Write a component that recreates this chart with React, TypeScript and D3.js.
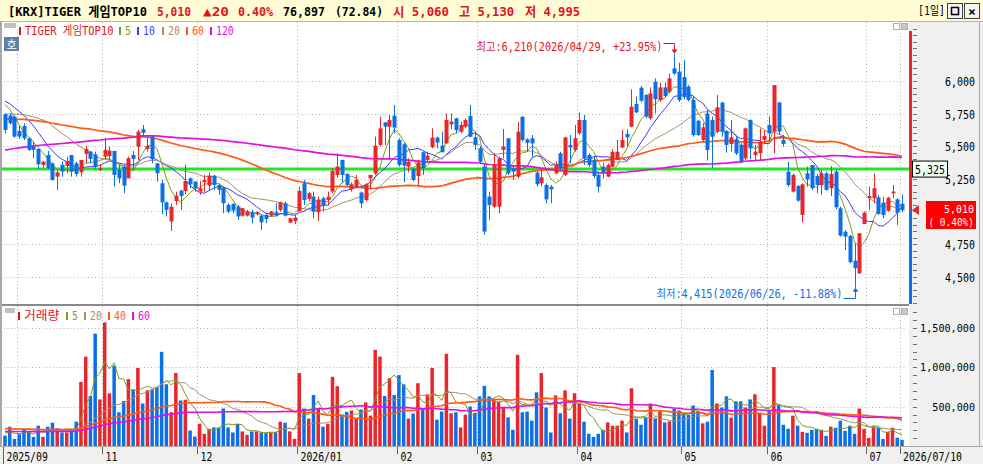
import React from "react";
import * as d3 from "d3";

// daily candles (KRW)
const opens = [
  5747, 5735, 5727, 5617, 5655, 5561, 5497, 5479, 5357, 5433,
  5369, 5267, 5357, 5349, 5433, 5369, 5300, 5441, 5459, 5438,
  5318, 5420, 5425, 5464, 5318, 5344, 5254, 5433, 5497, 5630,
  5479, 5574, 5369, 5216, 5070, 4923, 5080, 5160, 5157, 5254,
  5229, 5152, 5224, 5198, 5275, 5203, 5178, 5050, 5058, 5037,
  4968, 4968, 4994, 4979, 4968, 4974, 4968, 4994, 5012, 5063,
  4915, 4927, 5004, 5216, 5096, 5114, 4994, 5101, 5088, 5152,
  5280, 5395, 5288, 5170, 5183, 5145, 5088, 5254, 5293, 5510,
  5683, 5650, 5734, 5548, 5515, 5344, 5326, 5272, 5454, 5395,
  5492, 5566, 5505, 5523, 5668, 5714, 5612, 5650, 5732, 5568,
  5484, 5344, 5114, 5037, 5037, 5471, 5561, 5331, 5267, 5727,
  5553, 5561, 5298, 5216, 5203, 5190, 5292, 5446, 5280, 5510,
  5471, 5599, 5701, 5433, 5394, 5280, 5343, 5267, 5343, 5395,
  5491, 5594, 5650, 5824, 5949, 5893, 5714, 5995, 5854, 5951,
  5918, 6097, 6071, 6030, 5957, 5855, 5696, 5548, 5752, 5701,
  5612, 5834, 5617, 5517, 5553, 5510, 5407, 5701, 5433, 5446,
  5548, 5663, 5612, 5836, 5548, 5305, 5152, 5195, 4973, 5292,
  5356, 5272, 5203, 5292, 5178, 5305, 5024, 4845, 4812, 4623,
  4526, 4904, 5101, 5101, 5108, 5067, 5006, 5139, 5093, 5060,
];
const highs = [
  5752, 5752, 5735, 5658, 5676, 5566, 5535, 5484, 5387, 5464,
  5375, 5318, 5382, 5420, 5433, 5382, 5395, 5502, 5464, 5459,
  5362, 5566, 5497, 5464, 5357, 5357, 5420, 5464, 5625, 5663,
  5574, 5586, 5369, 5242, 5076, 5063, 5152, 5165, 5357, 5260,
  5234, 5234, 5280, 5300, 5280, 5216, 5191, 5063, 5063, 5050,
  5025, 5012, 5012, 5000, 4974, 4986, 5004, 5063, 5076, 5076,
  4948, 4974, 5191, 5242, 5152, 5152, 5114, 5114, 5152, 5331,
  5446, 5395, 5293, 5222, 5280, 5152, 5216, 5280, 5574, 5727,
  5683, 5740, 5816, 5561, 5523, 5408, 5331, 5395, 5459, 5459,
  5637, 5574, 5612, 5752, 5752, 5719, 5688, 5714, 5816, 5612,
  5497, 5356, 5152, 5446, 5420, 5632, 5561, 5356, 5688, 5727,
  5561, 5586, 5305, 5331, 5216, 5203, 5382, 5458, 5573, 5586,
  5663, 5757, 5740, 5446, 5420, 5305, 5374, 5369, 5478, 5548,
  5624, 5630, 5936, 5880, 5962, 5900, 5951, 6020, 5987, 5987,
  6058, 6210, 6140, 6161, 5969, 5880, 5701, 5676, 5778, 5727,
  5893, 5842, 5624, 5701, 5573, 5522, 5645, 5706, 5510, 5637,
  5624, 5727, 5969, 5836, 5586, 5382, 5292, 5203, 5216, 5343,
  5356, 5288, 5318, 5305, 5348, 5318, 5037, 4858, 4820, 4756,
  4833, 4999, 5190, 5292, 5126, 5113, 5113, 5203, 5101, 5130,
];
const lows = [
  5599, 5668, 5566, 5556, 5548, 5464, 5408, 5326, 5336, 5326,
  5236, 5165, 5267, 5293, 5267, 5267, 5267, 5369, 5369, 5326,
  5306, 5403, 5395, 5191, 5216, 5140, 5254, 5318, 5395, 5574,
  5459, 5369, 5229, 4979, 4961, 4851, 5050, 5012, 5132, 5178,
  5152, 5127, 5152, 5165, 5165, 5127, 4986, 4986, 4986, 4935,
  4961, 4961, 4910, 4968, 4859, 4910, 4961, 4961, 4999, 4961,
  4910, 4902, 4999, 5050, 5076, 4948, 4928, 4999, 5045, 5140,
  5260, 5216, 5191, 5152, 5178, 5025, 5076, 5173, 5280, 5497,
  5510, 5395, 5599, 5344, 5224, 5300, 5229, 5203, 5280, 5382,
  5484, 5484, 5454, 5515, 5630, 5599, 5599, 5637, 5568, 5471,
  5369, 4820, 4935, 5024, 4986, 5407, 5280, 5242, 5254, 5535,
  5458, 5420, 5190, 5190, 5063, 5063, 5288, 5318, 5272, 5369,
  5458, 5586, 5356, 5343, 5254, 5144, 5254, 5262, 5338, 5395,
  5484, 5497, 5645, 5752, 5836, 5714, 5701, 5752, 5841, 5875,
  5905, 6046, 5840, 5860, 5842, 5573, 5579, 5535, 5390, 5331,
  5599, 5573, 5451, 5458, 5433, 5369, 5395, 5400, 5395, 5390,
  5522, 5535, 5446, 5586, 5497, 5190, 5144, 5075, 4915, 5190,
  5165, 5139, 5127, 5160, 5118, 5017, 4807, 4705, 4603, 4415,
  4521, 4904, 5011, 5063, 4973, 4948, 4999, 5101, 4896, 4995,
];
const closes = [
  5625, 5676, 5574, 5574, 5561, 5472, 5472, 5362, 5382, 5331,
  5242, 5300, 5306, 5387, 5306, 5288, 5395, 5479, 5403, 5344,
  5331, 5472, 5466, 5280, 5254, 5198, 5408, 5403, 5612, 5604,
  5502, 5400, 5293, 5070, 5012, 5037, 5121, 5119, 5234, 5209,
  5178, 5178, 5242, 5275, 5203, 5165, 5063, 4999, 5007, 4961,
  5025, 4999, 4953, 4994, 4917, 4943, 4999, 4968, 5070, 4968,
  4948, 4953, 5157, 5088, 5140, 4999, 5088, 5045, 5114, 5311,
  5344, 5280, 5203, 5209, 5242, 5063, 5209, 5280, 5505, 5637,
  5650, 5701, 5643, 5357, 5352, 5382, 5242, 5377, 5331, 5428,
  5566, 5528, 5454, 5701, 5689, 5624, 5663, 5701, 5573, 5510,
  5382, 4846, 5050, 5356, 5407, 5497, 5292, 5305, 5612, 5548,
  5527, 5522, 5208, 5262, 5093, 5170, 5356, 5331, 5568, 5491,
  5561, 5701, 5407, 5356, 5272, 5190, 5298, 5356, 5458, 5458,
  5548, 5568, 5803, 5760, 5849, 5727, 5905, 5860, 5951, 5885,
  6020, 6058, 5854, 5877, 5855, 5586, 5586, 5645, 5471, 5573,
  5798, 5612, 5510, 5568, 5446, 5382, 5637, 5484, 5458, 5535,
  5578, 5599, 5969, 5612, 5517, 5203, 5280, 5083, 5208, 5246,
  5178, 5203, 5292, 5165, 5288, 5032, 4815, 4807, 4611, 4565,
  4833, 4991, 5118, 5178, 4981, 4973, 5106, 5152, 4990, 5010,
];
// daily volume, thousands of shares
const volumeThousands = [
  133, 245, 90, 150, 219, 176, 116, 258, 116, 245,
  296, 206, 172, 172, 219, 309, 815, 1137, 635, 1429,
  592, 1571, 670, 1021, 429, 571, 850, 712, 991, 541,
  708, 721, 751, 1197, 785, 429, 927, 579, 588, 197,
  120, 283, 155, 219, 236, 236, 476, 236, 172, 279,
  185, 142, 185, 185, 172, 163, 172, 176, 309, 296,
  185, 90, 927, 476, 348, 648, 476, 245, 283, 880,
  760, 399, 433, 451, 348, 464, 554, 386, 1223, 1137,
  635, 863, 648, 901, 785, 348, 412, 798, 476, 657,
  991, 335, 438, 1172, 416, 429, 236, 399, 502, 421,
  631, 764, 631, 601, 562, 485, 365, 206, 1159, 429,
  438, 322, 682, 927, 489, 172, 644, 416, 708, 348,
  670, 545, 309, 155, 116, 155, 206, 300, 258, 258,
  322, 172, 734, 348, 270, 356, 541, 348, 442, 300,
  313, 476, 451, 416, 399, 515, 442, 288, 309, 966,
  541, 489, 631, 361, 567, 567, 489, 592, 657, 408,
  258, 442, 1004, 528, 270, 219, 386, 258, 180, 167,
  206, 219, 206, 129, 245, 232, 322, 193, 258, 155,
  476, 219, 103, 258, 232, 90, 180, 232, 105.57, 76.897,
];

const monthLabels = ["2025/09", "11", "12", "2026/01", "02", "03", "04", "05", "06", "07"];
const monthStarts = [0, 21, 41, 62, 83, 100, 121, 143, 161, 182];
const octoberStart = 3; // gridline only, no label
const lastDateLabel = "2026/07/10";
const highDate = "2026/04/29";
const lowDate = "2026/06/26";

const priceTicks = [6000, 5750, 5500, 5250, 5000, 4750, 4500];
const volumeTicks = [1500000, 1000000, 500000];
const referencePrice = 5325;

// history before the window is not shown: average close of each 10-day block
// (oldest first), estimated from where the moving averages start at the left edge
const priorBlockMeans = [4930, 4960, 4990, 5420, 5480, 5540, 5660, 5700, 5720, 5690, 5620, 5870];
const priceMaPeriods = [5, 10, 20, 60, 120];
const volumeMaPeriods = [5, 20, 40, 60];
const volumeMaPrior = [170000, 230000, 222000, 186000];

const RED = "#e8262b";
const BLUE = "#0b6fe6";
const TXT_RED = "#e0141e";
const MA_COLORS: Record<number, string> = {
  5: "#7c9c1c",
  10: "#3a3aff",
  20: "#a88f70",
  60: "#ff5a14",
  120: "#e012e0",
};
const VOL_MA_COLORS: Record<number, string> = { 5: "#7c9c1c", 20: "#a88f70", 40: "#ff5a14", 60: "#e012e0" };
const MONO = "'DejaVu Sans Mono', 'Noto Sans CJK KR', monospace";

const W = 983;
const H = 464;
const PRICE_TOP = 22;
const PRICE_BOT = 304;
const VOL_TOP = 306;
const VOL_BOT = 446;
const PLOT_R = 909;

const volumes = volumeThousands.map((v) => v * 1000);

function movingAverage(values: number[], n: number, prior: number[]) {
  const all = [...prior, ...values];
  const off = prior.length;
  return values.map((_, i) => {
    let s = 0;
    let c = 0;
    for (let k = off + i - n + 1; k <= off + i; k++) {
      if (k >= 0) {
        s += all[k];
        c++;
      }
    }
    return s / c;
  });
}

const fmt = d3.format(",");

// half-width units of a monospace Korean UI font
const units = (s: string) => Array.from(s).reduce((a, ch) => a + (/[\u3131-\uD79D]/.test(ch) ? 2 : 1), 0);

const MText: React.FC<{
  x: number;
  y: number;
  t: string;
  fill: string;
  size?: number;
  unit?: number;
  anchor?: "start" | "end" | "middle";
}> = ({ x, y, t, fill, size = 11.5, unit = 6, anchor = "start" }) => (
  <text
    x={x}
    y={y}
    fontSize={size}
    fill={fill}
    textAnchor={anchor}
    textLength={units(t) * unit}
    lengthAdjust="spacingAndGlyphs"
  >
    {t}
  </text>
);

const App: React.FC = () => {
  const n = closes.length;
  const x = d3.scaleLinear().domain([0, n - 1]).range([5, 902]);
  const half = (x(1) - x(0)) / 2;
  const yP = d3.scaleLinear().domain([4500, 6000]).range([276.7, 81]);
  const yV = d3.scaleLinear().domain([0, 1500000]).range([VOL_BOT, 328]);

  const priceLine = d3.line<number>().x((_, i) => x(i)).y((d) => yP(d));
  const volLine = d3.line<number>().x((_, i) => x(i)).y((d) => yV(d));

  const priorCloses = priorBlockMeans.flatMap((m) => Array(10).fill(m) as number[]);

  const last = n - 1;
  const lastClose = closes[last];
  const change = lastClose - closes[last - 1];
  const changePct = (change / closes[last - 1]) * 100;
  const maxHigh = d3.max(highs)!;
  const maxIdx = highs.indexOf(maxHigh);
  const minLow = d3.min(lows)!;
  const minIdx = lows.indexOf(minLow);
  const hiPct = (maxHigh / lastClose - 1) * 100;
  const loPct = (minLow / lastClose - 1) * 100;

  const gridXs = [...monthStarts.slice(1), octoberStart, last].map((i) => Math.round(x(i) - half) + 0.5);

  const priceMinor = d3.range(4300, 6500, 50).filter((v) => yP(v) > PRICE_TOP + 2 && yP(v) < PRICE_BOT - 1);
  const volMinor = d3.range(0, 1800000, 100000).filter((v) => yV(v) > VOL_TOP + 2 && yV(v) <= VOL_BOT - 1);

  const titleParts = [
    { t: "[KRX]TIGER 게임TOP10", x: 8, w: 139, c: "#000" },
    { t: fmt(lastClose), x: 157, w: 34, c: TXT_RED },
    { t: `▲${change}`, x: 203, w: 26, c: TXT_RED },
    { t: `${changePct.toFixed(2)}%`, x: 238, w: 35, c: TXT_RED },
    { t: fmt(volumes[last]), x: 283, w: 42, c: "#000" },
    { t: `(${((volumes[last] / volumes[last - 1]) * 100).toFixed(2)})`, x: 335, w: 48, c: "#000" },
    { t: `시 ${fmt(opens[last])}`, x: 393, w: 56, c: TXT_RED },
    { t: `고 ${fmt(highs[last])}`, x: 459, w: 55, c: TXT_RED },
    { t: `저 ${fmt(lows[last])}`, x: 525, w: 55, c: TXT_RED },
  ];

  const priceLegend = [
    { t: "TIGER 게임TOP10", c: TXT_RED, x: 19 },
    { t: "5", c: MA_COLORS[5], x: 119 },
    { t: "10", c: MA_COLORS[10], x: 137 },
    { t: "20", c: MA_COLORS[20], x: 162 },
    { t: "60", c: MA_COLORS[60], x: 186 },
    { t: "120", c: MA_COLORS[120], x: 210 },
  ];
  const volLegend = [
    { t: "거래량", c: TXT_RED, x: 18 },
    { t: "5", c: VOL_MA_COLORS[5], x: 66 },
    { t: "20", c: VOL_MA_COLORS[20], x: 84 },
    { t: "40", c: VOL_MA_COLORS[40], x: 108 },
    { t: "60", c: VOL_MA_COLORS[60], x: 132 },
  ];

  const hiX = Math.round(x(maxIdx)) + 0.5;
  const hiY = yP(maxHigh);
  const loX = Math.round(x(minIdx)) + 0.5;
  const loY = yP(minLow);
  const curY = Math.round(yP(lastClose));
  const hiText = `최고:${fmt(maxHigh)}(${highDate}, +${hiPct.toFixed(2)}%)`;
  const loText = `최저:${fmt(minLow)}(${lowDate}, ${loPct.toFixed(2)}%)`;

  return (
    <svg width={W} height={H} style={{ position: "absolute", left: 0, top: 0 }} fontFamily={MONO}>
      <defs>
        <clipPath id="cp-price">
          <rect x={2} y={PRICE_TOP} width={PLOT_R - 2} height={PRICE_BOT - PRICE_TOP} />
        </clipPath>
        <clipPath id="cp-vol">
          <rect x={2} y={VOL_TOP} width={PLOT_R - 2} height={VOL_BOT - VOL_TOP} />
        </clipPath>
      </defs>
      <rect width={W} height={H} fill="#f0f0f0" />

      {/* title bar */}
      <rect x={0} y={0} width={W} height={21} fill="#fffcd6" />
      <line x1={0} x2={W} y1={21.5} y2={21.5} stroke="#b8b8a8" />
      {titleParts.map((p, i) => (
        <text
          key={i}
          x={p.x}
          y={15.5}
          fontSize={13}
          fontWeight={600}
          fill={p.c}
          textLength={p.w}
          lengthAdjust="spacingAndGlyphs"
        >
          {p.t}
        </text>
      ))}
      <text x={918} y={15} fontSize={12.5} fill="#000" textLength={27} lengthAdjust="spacingAndGlyphs">
        [1일]
      </text>
      <rect x={947.5} y={3.5} width={15} height={15} fill="#f4f4f4" stroke="#404040" />
      <rect x={951.5} y={7.5} width={7} height={7} fill="none" stroke="#000" strokeWidth={1.5} />
      <rect x={964.5} y={3.5} width={15} height={15} fill="#f4f4f4" stroke="#404040" />
      <text x={972} y={15.5} fontSize={13} fontWeight="bold" textAnchor="middle" fill="#000">
        ×
      </text>

      {/* plot backgrounds */}
      <rect x={2} y={PRICE_TOP} width={PLOT_R - 2} height={PRICE_BOT - PRICE_TOP} fill="#fff" />
      <rect x={2} y={VOL_TOP} width={PLOT_R - 2} height={VOL_BOT - VOL_TOP} fill="#fff" />
      <line x1={0} x2={PLOT_R} y1={305} y2={305} stroke="#8a8a8a" strokeWidth={2} />
      <line x1={1} x2={1} y1={PRICE_TOP} y2={VOL_BOT} stroke="#a8a8a8" strokeWidth={2} />
      <line x1={0} x2={W} y1={446.5} y2={446.5} stroke="#a8a8a8" />
      <line x1={979.5} x2={979.5} y1={PRICE_TOP} y2={VOL_BOT} stroke="#a8a8a8" />

      {/* grid */}
      <g stroke="#b4b4b4" strokeDasharray="1 2.5">
        {gridXs.map((gx, i) => (
          <g key={i}>
            <line x1={gx} x2={gx} y1={PRICE_TOP} y2={PRICE_BOT} />
            <line x1={gx} x2={gx} y1={VOL_TOP} y2={VOL_BOT} />
          </g>
        ))}
        {priceTicks.map((v) => (
          <line key={v} x1={4} x2={906} y1={Math.round(yP(v)) + 0.5} y2={Math.round(yP(v)) + 0.5} />
        ))}
        {volumeTicks.map((v) => (
          <line key={v} x1={4} x2={906} y1={Math.round(yV(v)) + 0.5} y2={Math.round(yV(v)) + 0.5} />
        ))}
      </g>

      {/* volume */}
      <g clipPath="url(#cp-vol)">
        {volumes.map((v, i) => (
          <rect
            key={i}
            x={x(i) - 1.75}
            y={yV(v)}
            width={3.5}
            height={VOL_BOT - yV(v)}
            fill={closes[i] >= opens[i] ? RED : BLUE}
          />
        ))}
        {volumeMaPeriods.map((p, k) => (
          <path
            key={p}
            d={volLine(movingAverage(volumes, p, Array(p).fill(volumeMaPrior[k]) as number[])) || ""}
            fill="none"
            stroke={VOL_MA_COLORS[p]}
            strokeWidth={p >= 40 ? 1.6 : 1}
          />
        ))}
      </g>

      {/* price */}
      <g clipPath="url(#cp-price)">
        <line
          x1={2}
          x2={PLOT_R}
          y1={yP(referencePrice)}
          y2={yP(referencePrice)}
          stroke="#22e622"
          strokeWidth={3}
        />
        {priceMaPeriods.map((p) => (
          <path
            key={p}
            d={priceLine(movingAverage(closes, p, priorCloses)) || ""}
            fill="none"
            stroke={MA_COLORS[p]}
            strokeWidth={p >= 60 ? 1.7 : 1}
          />
        ))}
        {closes.map((c, i) => {
          const o = opens[i];
          const up = c >= o;
          const col = up ? RED : BLUE;
          const cx = Math.round(x(i)) + 0.5;
          const top = yP(Math.max(o, c));
          const h = Math.max(1, Math.abs(yP(o) - yP(c)));
          return (
            <g key={i}>
              <line x1={cx} x2={cx} y1={yP(highs[i])} y2={yP(lows[i])} stroke={col} />
              <rect x={cx - 2} y={top} width={4} height={h} fill={col} />
            </g>
          );
        })}
      </g>

      {/* high / low notes */}
      <MText x={hiX - 12} y={51} t={hiText} fill={TXT_RED} anchor="end" />
      <path d={`M${hiX - 11},43.5H${hiX}V${hiY - 2}`} fill="none" stroke={TXT_RED} />
      <path d={`M${hiX - 3},${hiY - 4}L${hiX + 3},${hiY - 4}L${hiX},${hiY}Z`} fill={TXT_RED} />
      <MText x={loX - 13} y={298} t={loText} fill={BLUE} anchor="end" />
      <path d={`M${loX - 12},298.5H${loX}V${loY + 2}`} fill="none" stroke={BLUE} />
      <path d={`M${loX - 3},${loY + 4}L${loX + 3},${loY + 4}L${loX},${loY}Z`} fill={BLUE} />

      {/* legends */}
      <rect x={4} y={23} width={12} height={5} fill="#c0c0c0" />
      {priceLegend.map((l, i) => (
        <g key={i}>
          <rect x={l.x} y={27} width={2} height={8} fill={l.c} />
          <MText x={l.x + 6} y={35} t={l.t} fill={l.c} size={12} unit={5.9} />
        </g>
      ))}
      <rect x={4} y={37} width={15} height={14} fill="#5b82aa" />
      <text x={11.5} y={48.5} fontSize={11} fill="#fff" textAnchor="middle">
        호
      </text>
      <rect x={5} y={308} width={10} height={5} fill="#c0c0c0" />
      {volLegend.map((l, i) => (
        <g key={i}>
          <rect x={l.x} y={312} width={2} height={8} fill={l.c} />
          <MText x={l.x + 6} y={320} t={l.t} fill={l.c} size={12} unit={5.9} />
        </g>
      ))}
      {[PRICE_TOP + 1, VOL_TOP + 2].map((ty, i) => (
        <g key={i} fill="none" stroke="#b0b0b0">
          <rect x={893.5} y={ty + 0.5} width={6} height={6} />
          <rect x={901.5} y={ty + 0.5} width={6} height={6} fill="#c8c8c8" />
        </g>
      ))}

      {/* right price scale */}
      <rect x={909} y={31} width={3} height={curY - 31} fill={RED} />
      <rect x={909} y={curY} width={3} height={PRICE_BOT - curY} fill={BLUE} />
      <g stroke="#707070">
        {priceMinor.map((v) => (
          <line key={v} x1={913} x2={917} y1={Math.round(yP(v)) + 0.5} y2={Math.round(yP(v)) + 0.5} />
        ))}
        {volMinor.map((v) => (
          <line key={v} x1={913} x2={917} y1={Math.round(yV(v)) + 0.5} y2={Math.round(yV(v)) + 0.5} />
        ))}
      </g>
      {priceTicks
        .filter((v) => Math.abs(yP(v) - curY) > 14)
        .map((v) => (
          <MText key={v} x={975} y={yP(v) + 5} t={fmt(v)} fill="#000" size={12} anchor="end" />
        ))}
      {volumeTicks.map((v) => (
        <MText key={v} x={975} y={yV(v) + 4} t={fmt(v)} fill="#000" size={10.5} unit={6.1} anchor="end" />
      ))}
      <rect x={912.5} y={yP(referencePrice) - 8} width={35} height={16} fill="#f2fff2" stroke="#000" />
      <MText x={930} y={yP(referencePrice) + 5} t={fmt(referencePrice)} fill="#000" size={12} anchor="middle" />
      <path d={`M912,${curY}L919,${curY - 5}L919,${curY + 5}Z`} fill={RED} />
      <rect x={926} y={curY - 9} width={50} height={28} fill="#ff0000" />
      <MText x={974} y={curY + 3} t={fmt(lastClose)} fill="#fff" size={11} anchor="end" />
      <MText x={974} y={curY + 16} t={`( ${changePct.toFixed(2)}%)`} fill="#fff" size={11} unit={5.7} anchor="end" />

      {/* x axis */}
      {monthStarts.map((s, i) => {
        const gx = Math.round(x(s) - half) + 0.5;
        return (
          <g key={i}>
            <line x1={gx} x2={gx} y1={447} y2={i === 0 ? 464 : 454} stroke="#606060" />
            <MText x={gx + 3} y={461} t={monthLabels[i]} fill="#000" size={12} unit={5.9} />
          </g>
        );
      })}
      <line
        x1={Math.round(x(last) - half) + 0.5}
        x2={Math.round(x(last) - half) + 0.5}
        y1={447}
        y2={454}
        stroke="#606060"
      />
      <MText x={Math.round(x(last) - half) + 3} y={461} t={lastDateLabel} fill="#000" size={12} unit={5.9} />
    </svg>
  );
};

export default App;
